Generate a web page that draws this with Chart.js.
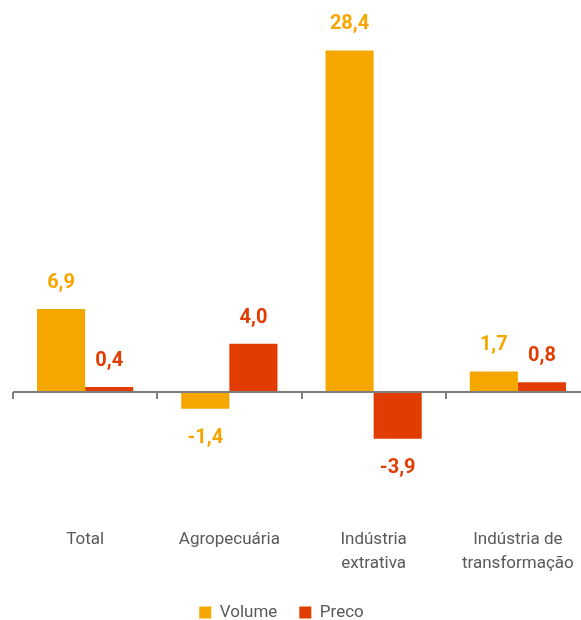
<!DOCTYPE html>
<html>
<head>
<meta charset="utf-8">
<script src="https://cdn.jsdelivr.net/npm/chart.js@4/dist/chart.umd.min.js"></script>
<style>
  html, body { margin: 0; padding: 0; overflow: hidden; background: #fff; }
  .wrap { width: 581px; height: 620px; overflow: hidden; }
  canvas { display: block; }
</style>
</head>
<body>
<div class="wrap"><canvas id="c" width="590" height="631"></canvas></div>
<script>
// values
const categories = [['Total'], ['Agropecuária'], ['Indústria', 'extrativa'], ['Indústria de', 'transformação']];
const volume = [6.9, -1.4, 28.4, 1.7];
const preco = [0.4, 4.0, -3.9, 0.8];
const seriesNames = ['Volume', 'Preco'];

const VOLUME_COLOR = '#F5A700';
const PRECO_COLOR = '#E23D00';
const FONT = 'Roboto, "Open Sans", sans-serif';

const fmt = v => v.toFixed(1).replace('.', ',');

// zero line with little ticks at the category boundaries
const zeroLine = {
  id: 'zeroLine',
  afterDatasetsDraw(chart) {
    const { ctx, chartArea, scales } = chart;
    const y0 = Math.round(scales.y.getPixelForValue(0));
    const n = categories.length;
    const step = chartArea.width / n;
    ctx.save();
    ctx.strokeStyle = '#7f7f7f';
    ctx.lineWidth = 2;
    ctx.beginPath();
    ctx.moveTo(chartArea.left, y0);
    ctx.lineTo(chartArea.right, y0);
    for (let i = 0; i <= n; i++) {
      const x = Math.round(chartArea.left + i * step);
      ctx.moveTo(x, y0);
      ctx.lineTo(x, y0 + 7);
    }
    ctx.stroke();
    ctx.restore();
  }
};

// value labels above / below the bars
const valueLabels = {
  id: 'valueLabels',
  afterDatasetsDraw(chart) {
    const { ctx } = chart;
    ctx.save();
    ctx.font = `bold 20px ${FONT}`;
    ctx.textAlign = 'center';
    ctx.textBaseline = 'middle';
    chart.data.datasets.forEach((ds, di) => {
      const meta = chart.getDatasetMeta(di);
      meta.data.forEach((bar, i) => {
        const v = ds.data[i];
        ctx.fillStyle = ds.backgroundColor;
        const y = v >= 0 ? bar.y - 26 : bar.y + 29;
        ctx.fillText(fmt(v), bar.x, y);
      });
    });
    ctx.restore();
  }
};

// canvas is wider than the window, so pull the legend back to the visible centre
const legendShift = {
  id: 'legendShift',
  afterLayout(chart) {
    chart.legend.left -= 20;
    chart.legend.right -= 20;
  }
};

new Chart(document.getElementById('c'), {
  type: 'bar',
  data: {
    labels: categories,
    datasets: [
      { label: seriesNames[0], data: volume, backgroundColor: VOLUME_COLOR },
      { label: seriesNames[1], data: preco, backgroundColor: PRECO_COLOR },
    ]
  },
  options: {
    responsive: false,
    animation: false,
    devicePixelRatio: 1,
    layout: { padding: { left: 13, top: 8, right: 0, bottom: 0 } },
    datasets: { bar: { categoryPercentage: 0.667, barPercentage: 1 } },
    plugins: {
      legend: {
        position: 'bottom',
        labels: {
          boxWidth: 12,
          boxHeight: 12,
          padding: 22,
          color: '#595959',
          font: { family: FONT, size: 17 },
        }
      },
      tooltip: { enabled: false },
    },
    scales: {
      x: {
        grid: { display: false, drawTicks: false },
        border: { display: false },
        ticks: {
          color: '#595959',
          padding: 25,
          maxRotation: 0,
          font: { family: FONT, size: 17, lineHeight: 1.4 },
        },
        afterFit(scale) {
          // labels hang below; keep the axis box fixed and let the bars use the full width
          scale.height = 79;
          scale.paddingLeft = 0;
          scale.paddingRight = 0;
        },
      },
      y: {
        display: false,
        min: -9.24,
        max: 31.93,
      }
    }
  },
  plugins: [zeroLine, valueLabels, legendShift]
});
</script>
</body>
</html>
